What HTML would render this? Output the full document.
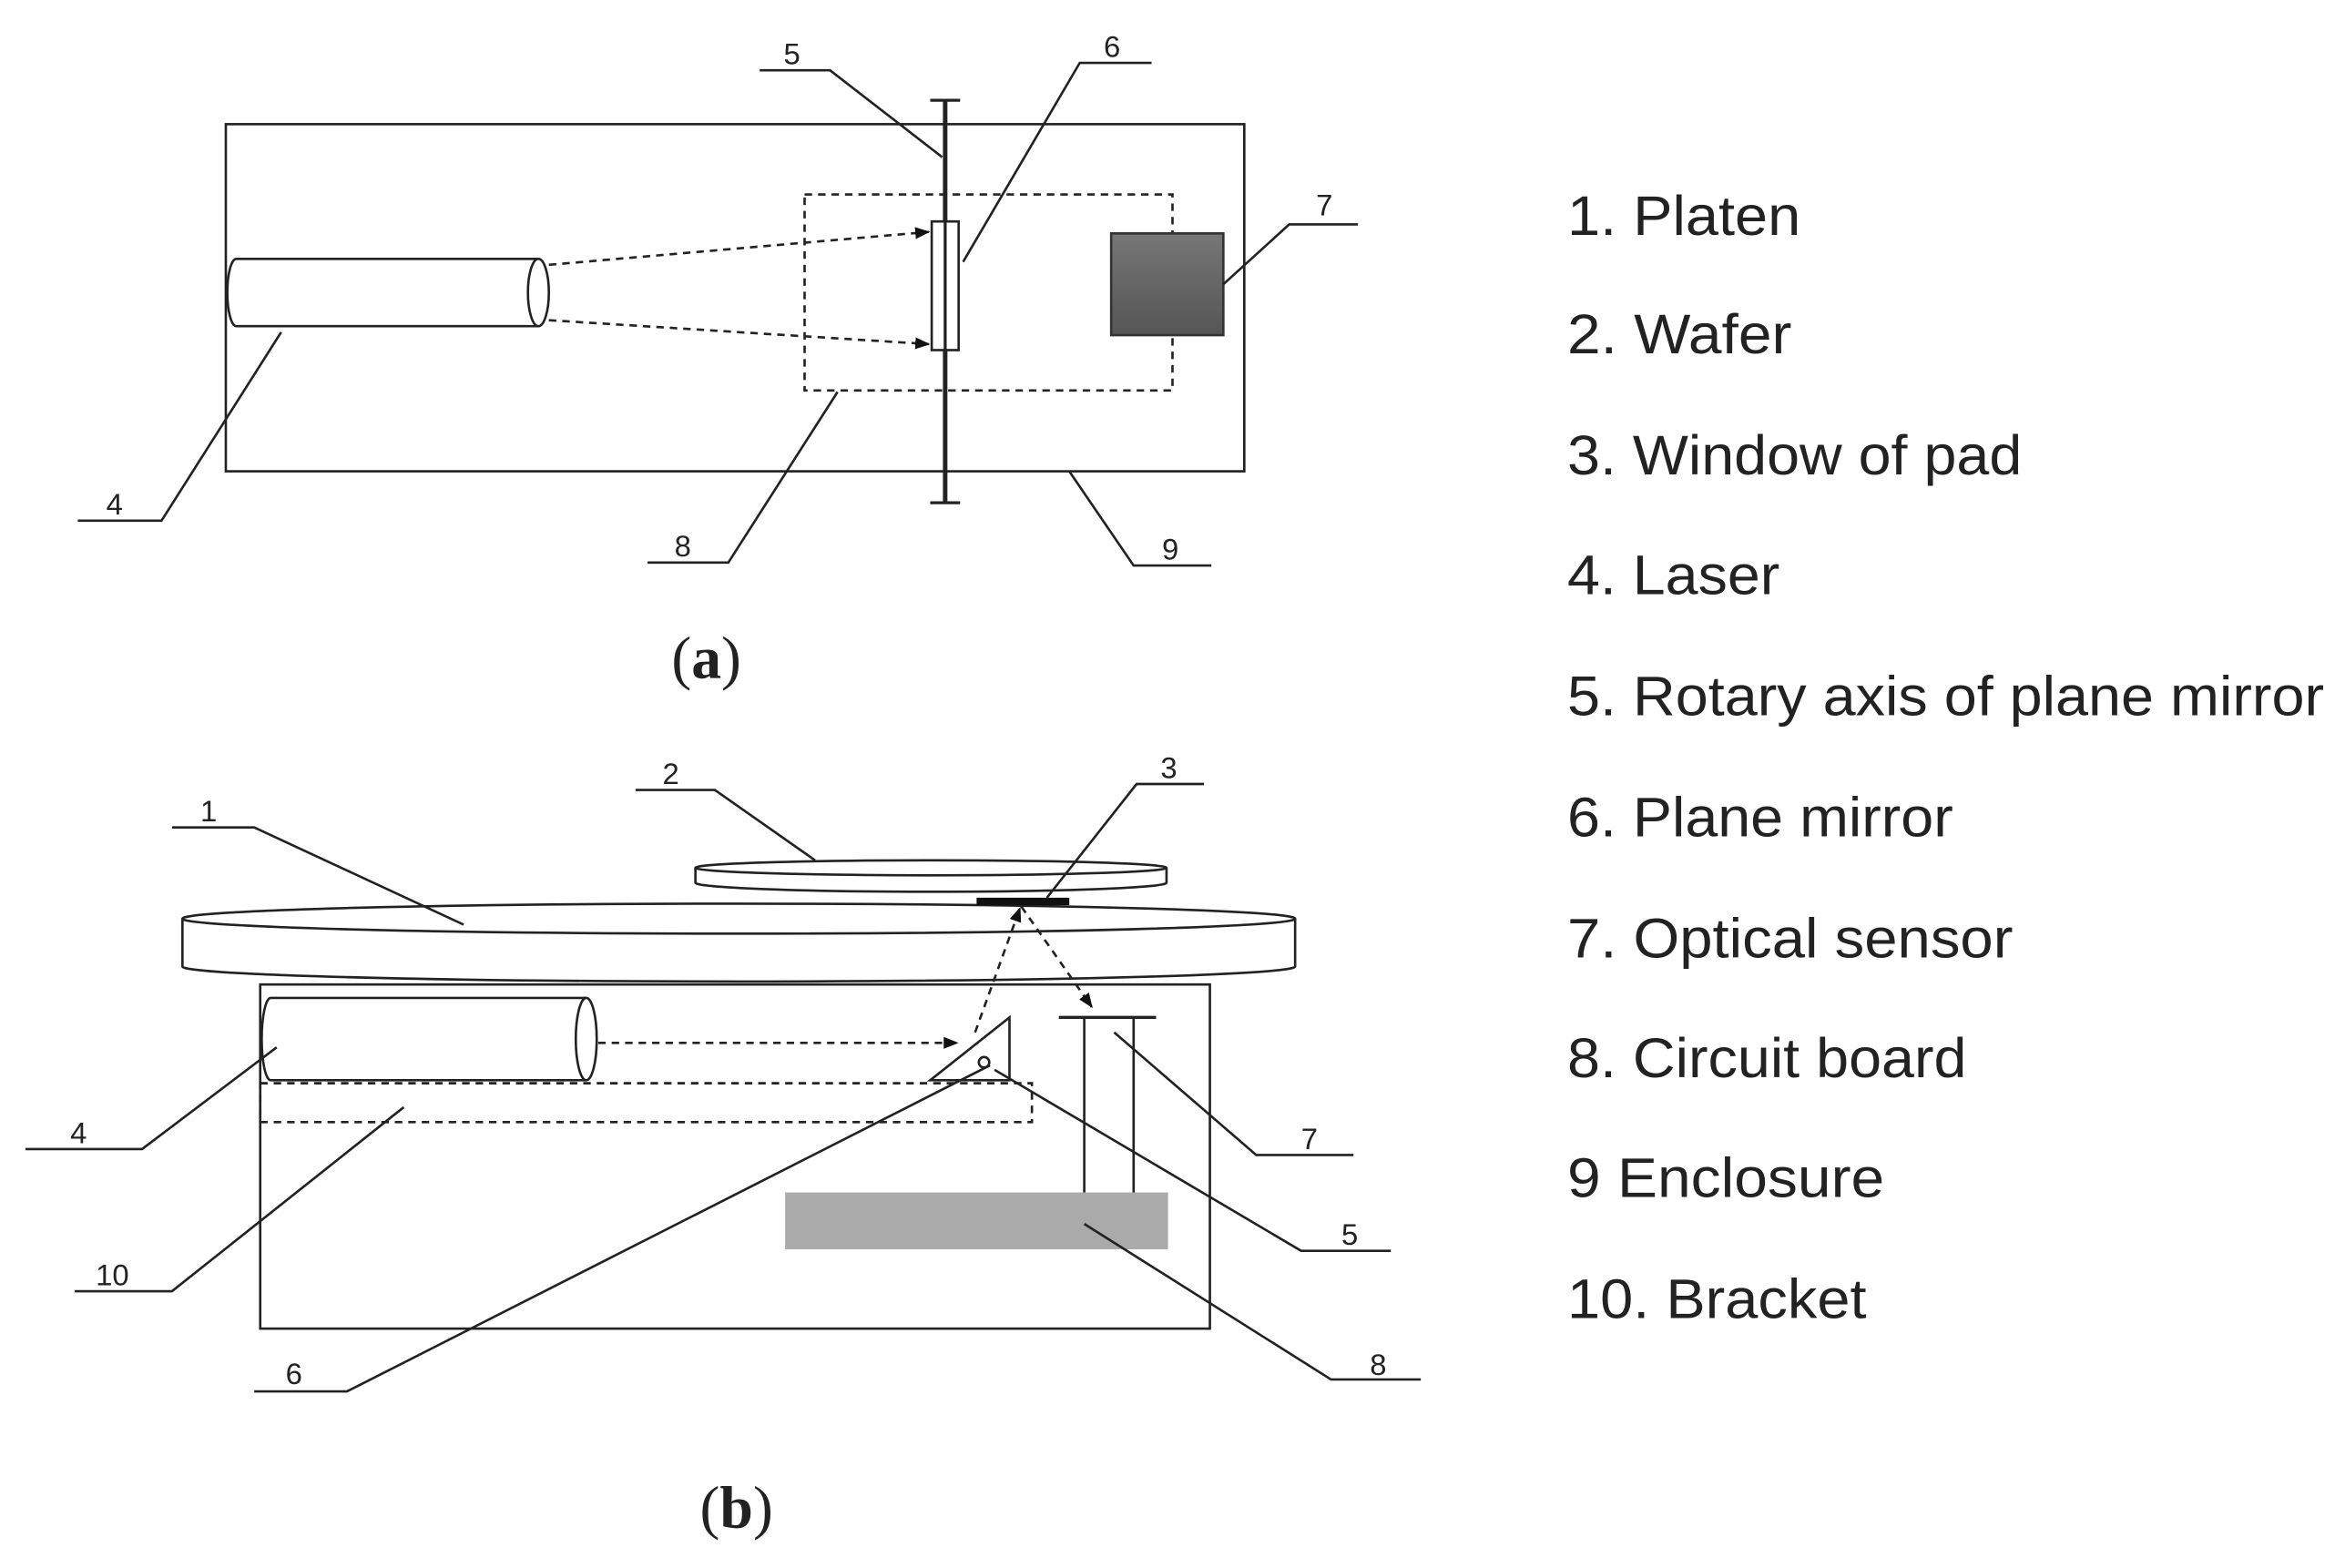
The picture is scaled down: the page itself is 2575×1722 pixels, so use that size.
<!DOCTYPE html>
<html><head><meta charset="utf-8"><style>
html,body{margin:0;padding:0;background:#fff;}
svg{display:block;}
text{font-family:"Liberation Sans",sans-serif;fill:#222;}
</style></head><body>
<svg width="2575" height="1722" viewBox="0 0 1568 1048" preserveAspectRatio="none" xmlns="http://www.w3.org/2000/svg">
<defs>
<marker id="ar" markerWidth="10" markerHeight="8" refX="9" refY="4" orient="auto" markerUnits="userSpaceOnUse"><path d="M0,0 L10,4 L0,8 z" fill="#111"/></marker>
<linearGradient id="g1" x1="0" y1="0" x2="0" y2="1"><stop offset="0" stop-color="#777"/><stop offset="1" stop-color="#555"/></linearGradient>
</defs>
<g stroke="#222" stroke-width="1.6" fill="none">
<rect x="151" y="83" width="681" height="232"/>
<path d="M360,173 L158,173 A6,22.5 0 0 0 158,218 L360,218"/>
<ellipse cx="360" cy="195.5" rx="7" ry="22.5" fill="#fff"/>
<line x1="367" y1="177" x2="621" y2="155" stroke-dasharray="5,4" marker-end="url(#ar)"/>
<line x1="367" y1="214" x2="621" y2="230" stroke-dasharray="5,4" marker-end="url(#ar)"/>
<rect x="538" y="130" width="246" height="131" stroke-dasharray="5,4"/>
<line x1="632" y1="67" x2="632" y2="336" stroke-width="3"/>
<line x1="622" y1="67" x2="642" y2="67" stroke-width="2"/>
<line x1="622" y1="336" x2="642" y2="336" stroke-width="2"/>
<rect x="623" y="148" width="18" height="86" fill="#fff"/>
<line x1="632" y1="148" x2="632" y2="234" stroke-width="2"/>
<rect x="743" y="156" width="75" height="68" fill="url(#g1)" stroke="#333"/>
<path d="M508,47 H555 L630,105"/>
<path d="M770,42 H722 L644,175"/>
<path d="M908,150 H862 L818,190"/>
<path d="M52,348 H108 L188,222"/>
<path d="M433,376 H487 L560,262"/>
<path d="M810,378 H758 L715,315"/>
<path d="M465,580 A157,5 0 0 1 780,580 L780,590 A157,6 0 0 1 465,590 Z" fill="#fff"/>
<path d="M465,580 A157,5 0 0 0 780,580"/>
<path d="M122,614 A372,10 0 0 1 866,614 L866,646 A372,10 0 0 1 122,646 Z" fill="#fff"/>
<path d="M122,614 A372,10 0 0 0 866,614"/>
<rect x="653" y="600" width="62" height="5" fill="#111" stroke="none"/>
<rect x="174" y="658" width="635" height="230"/>
<path d="M392,667 L181,667 A6,27.5 0 0 0 181,722 L392,722"/>
<ellipse cx="392" cy="694.5" rx="7" ry="27.5" fill="#fff"/>
<line x1="400" y1="697" x2="640" y2="697" stroke-dasharray="5,4" marker-end="url(#ar)"/>
<rect x="174" y="724" width="516" height="26" stroke-dasharray="5,4"/>
<polygon points="622,722 675,680 675,722" fill="#fff"/>
<circle cx="658" cy="710" r="3.5"/>
<line x1="652" y1="690" x2="682" y2="607" stroke-dasharray="5,4" marker-end="url(#ar)"/>
<line x1="683" y1="606" x2="730" y2="673" stroke-dasharray="5,4" marker-end="url(#ar)"/>
<line x1="708" y1="680" x2="773" y2="680" stroke-width="2"/>
<line x1="725" y1="680" x2="725" y2="797"/>
<line x1="758" y1="680" x2="758" y2="797"/>
<rect x="525" y="797" width="256" height="38" fill="#aaa" stroke="none"/>
<path d="M115,553 H170 L310,618"/>
<path d="M425,528 H478 L545,575"/>
<path d="M805,524 H760 L700,600"/>
<path d="M17,768 H95 L185,700"/>
<path d="M905,772 H840 L745,690"/>
<path d="M930,836 H870 L665,715"/>
<path d="M50,863 H115 L270,740"/>
<path d="M950,922 H890 L725,818"/>
<path d="M170,930 H232 L662,712"/>
</g>
<g font-size="20">
<text x="524" y="43">5</text><text x="738" y="38">6</text><text x="880" y="144">7</text>
<text x="71" y="344">4</text><text x="451" y="372">8</text><text x="777" y="374">9</text>
<text x="134" y="549">1</text><text x="443" y="524">2</text><text x="776" y="520">3</text>
<text x="47" y="764">4</text><text x="870" y="768">7</text><text x="897" y="832">5</text>
<text x="64" y="859">10</text><text x="916" y="919">8</text><text x="191" y="925">6</text>
</g>
<text x="449" y="453" font-size="40" style="font-family:'Liberation Serif',serif">(<tspan font-weight="bold">a</tspan>)</text>
<text x="468" y="1021" font-size="40" style="font-family:'Liberation Serif',serif">(<tspan font-weight="bold">b</tspan>)</text>
<g font-size="37">
<text x="1048" y="157" textLength="156" lengthAdjust="spacingAndGlyphs">1. Platen</text>
<text x="1048" y="236" textLength="150" lengthAdjust="spacingAndGlyphs">2. Wafer</text>
<text x="1048" y="317" textLength="304" lengthAdjust="spacingAndGlyphs">3. Window of pad</text>
<text x="1048" y="397" textLength="142" lengthAdjust="spacingAndGlyphs">4. Laser</text>
<text x="1048" y="478" textLength="506" lengthAdjust="spacingAndGlyphs">5. Rotary axis of plane mirror</text>
<text x="1048" y="559" textLength="258" lengthAdjust="spacingAndGlyphs">6. Plane mirror</text>
<text x="1048" y="640" textLength="298" lengthAdjust="spacingAndGlyphs">7. Optical sensor</text>
<text x="1048" y="720" textLength="267" lengthAdjust="spacingAndGlyphs">8. Circuit board</text>
<text x="1048" y="800" textLength="212" lengthAdjust="spacingAndGlyphs">9 Enclosure</text>
<text x="1048" y="881" textLength="200" lengthAdjust="spacingAndGlyphs">10. Bracket</text>
</g>
</svg>
</body></html>
